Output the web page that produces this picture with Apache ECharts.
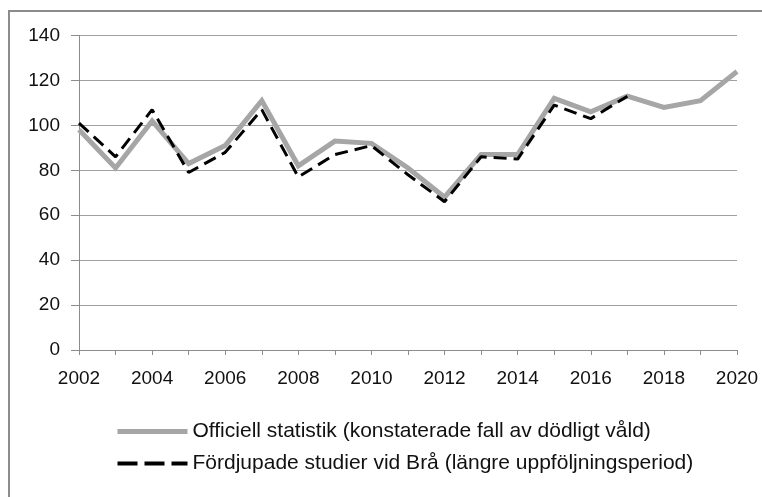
<!DOCTYPE html>
<html>
<head>
<meta charset="utf-8">
<script src="https://cdn.jsdelivr.net/npm/echarts@6/dist/echarts.min.js"></script>
<style>
  html, body { margin: 0; padding: 0; background: #fff; }
  #chart { width: 762px; height: 497px; }
</style>
</head>
<body>
<div id="chart"></div>
<script>
// år på x-axeln
const years = ['2002', '2003', '2004', '2005', '2006', '2007', '2008', '2009', '2010', '2011',
  '2012', '2013', '2014', '2015', '2016', '2017', '2018', '2019', '2020']
// officiell statistik
const officiell = [98, 81, 102, 83, 91, 111, 82, 93, 92, 81, 68, 87, 87, 112, 106, 113, 108, 111, 124]
// fördjupade studier (slutar 2017)
const fordjupade = [101, 86, 107, 79, 88, 107, 77, 87, 91, 78, 66, 86, 85, 109, 103, 113, null, null, null]
const seriesNames = [
  'Officiell statistik (konstaterade fall av dödligt våld)',
  'Fördjupade studier vid Brå (längre uppföljningsperiod)'
]
const yTicks = { min: 0, max: 140, interval: 20 }

const chart = echarts.init(document.getElementById('chart'), null, { renderer: 'canvas' })
const font = 'Liberation Sans, Arial, sans-serif'
const grey = '#a6a6a6'
const noSymbol = { color: 'rgba(0,0,0,0)', borderWidth: 0, opacity: 0 }

const option = {
  animation: false,
  graphic: [
    {
      type: 'rect',
      shape: { x: 9, y: 11, width: 820, height: 600 },
      style: { fill: 'none', stroke: '#8c8c8c', lineWidth: 2 },
      silent: true
    }
  ],
  grid: {
    left: 79,
    right: 25,
    top: 35.5,
    bottom: 147,
    containLabel: false
  },
  legend: {
    orient: 'vertical',
    left: 110,
    top: 416,
    itemWidth: 70,
    itemHeight: 12,
    itemGap: 11,
    textStyle: { fontFamily: font, fontSize: 21, color: '#111' },
    data: [
      { name: seriesNames[0], itemStyle: noSymbol, lineStyle: { color: grey, width: 5, type: 'solid' } },
      { name: seriesNames[1], itemStyle: noSymbol, lineStyle: { color: '#000', width: 4, type: [20, 7] } }
    ]
  },
  xAxis: {
    type: 'category',
    boundaryGap: false,
    data: years,
    axisLine: { lineStyle: { color: '#8c8c8c', width: 1 } },
    axisTick: { show: true, interval: 0, length: 5, lineStyle: { color: '#8c8c8c' } },
    axisLabel: {
      interval: 1,
      margin: 19,
      fontFamily: font,
      fontSize: 19,
      color: '#111'
    },
    splitLine: { show: false }
  },
  yAxis: {
    type: 'value',
    min: yTicks.min,
    max: yTicks.max,
    interval: yTicks.interval,
    axisLine: { show: true, lineStyle: { color: '#8c8c8c', width: 1 } },
    axisTick: { show: true, length: 8, lineStyle: { color: '#8c8c8c' } },
    axisLabel: {
      margin: 19,
      fontFamily: font,
      fontSize: 19,
      color: '#111'
    },
    splitLine: { show: true, lineStyle: { color: '#a0a0a0', width: 1 } }
  },
  series: [
    {
      name: seriesNames[0],
      type: 'line',
      data: officiell,
      symbol: 'none',
      lineStyle: { color: grey, width: 5, cap: 'butt', join: 'miter' },
      itemStyle: { color: grey },
      z: 2
    },
    {
      name: seriesNames[1],
      type: 'line',
      data: fordjupade,
      symbol: 'none',
      connectNulls: false,
      lineStyle: { color: '#000', width: 3, type: [13, 7] },
      itemStyle: { color: '#000' },
      z: 3
    }
  ]
}
chart.setOption(option)
</script>
</body>
</html>
